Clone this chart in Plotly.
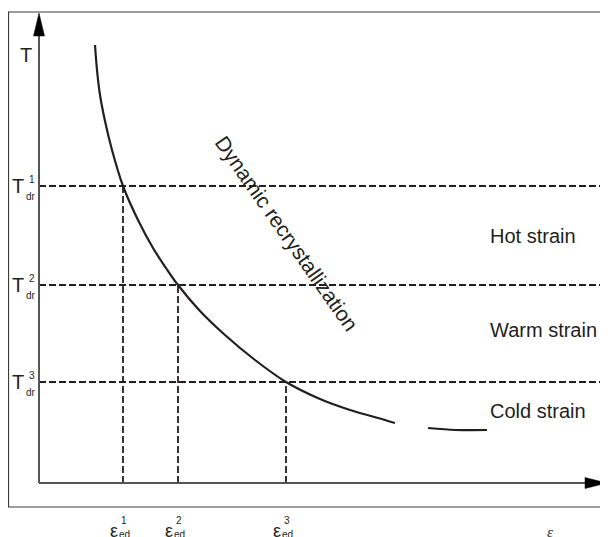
import plotly.graph_objects as go

# ---- data (strain eps, temperature T in arbitrary units) ----
eps_curve = [0.56, 0.58, 0.61, 0.66, 0.73, 0.84, 0.99, 1.14, 1.27, 1.39, 1.61, 1.86, 2.16, 2.47, 2.81, 3.11, 3.46, 3.56]
T_curve = [4.38, 4.13, 3.88, 3.62, 3.33, 2.97, 2.63, 2.35, 2.15, 1.98, 1.72, 1.48, 1.23, 1.01, 0.84, 0.73, 0.63, 0.60]
eps_tail = [3.89, 4.16, 4.48]
T_tail = [0.55, 0.53, 0.53]

T_levels = [2.97, 1.98, 1.01]          # T_dr^1, T_dr^2, T_dr^3
eps_levels = [0.84, 1.39, 2.47]        # eps_ed^1, eps_ed^2, eps_ed^3
level_names = ["1", "2", "3"]
regions = ["Hot strain", "Warm strain", "Cold strain"]
region_T = [2.47, 1.53, 0.72]

# ranges compensate for the 8px page margin of the html body
X_MIN, X_MAX = -0.31, 5.77
Y_MIN, Y_MAX = -0.62, 4.75
X_END = 5.68
Y_END = 4.70

INK = "#231f20"
FONT = "Liberation Sans, Arial, sans-serif"

fig = go.Figure()

# dashed guide lines
for e, t in zip(eps_levels, T_levels):
    fig.add_trace(go.Scatter(x=[0, X_MAX + 0.2], y=[t, t], mode="lines",
                             line=dict(color=INK, width=1.8, dash="7px,3px"),
                             hoverinfo="skip", showlegend=False))
    fig.add_trace(go.Scatter(x=[e, e], y=[0, t], mode="lines",
                             line=dict(color=INK, width=1.8, dash="7px,3px"),
                             hoverinfo="skip", showlegend=False))

# curve
fig.add_trace(go.Scatter(x=eps_curve, y=T_curve, mode="lines",
                         line=dict(color=INK, width=2.2, shape="spline", smoothing=1.0),
                         hoverinfo="skip", showlegend=False))
fig.add_trace(go.Scatter(x=eps_tail, y=T_tail, mode="lines",
                         line=dict(color=INK, width=2.2, shape="spline", smoothing=0.8),
                         hoverinfo="skip", showlegend=False))

shapes = []
# outer frame
shapes.append(dict(type="rect", x0=-0.305, y0=-0.24, x1=6.2, y1=4.71,
                   line=dict(color="#3a3a3a", width=1.2), fillcolor="rgba(0,0,0,0)", layer="below"))
# axes
shapes.append(dict(type="line", x0=0, y0=0, x1=0, y1=Y_END - 0.1, line=dict(color="#555555", width=2)))
shapes.append(dict(type="line", x0=0, y0=0, x1=X_END - 0.1, y1=0, line=dict(color="#555555", width=2)))
# arrow heads
shapes.append(dict(type="path", path=f"M -0.055,{Y_END-0.23} L 0,{Y_END} L 0.055,{Y_END-0.23} Z",
                   fillcolor="#000000", line=dict(color="#000000", width=0.5)))
shapes.append(dict(type="path", path=f"M {X_END-0.22},-0.055 L {X_END},0 L {X_END-0.22},0.055 Z",
                   fillcolor="#000000", line=dict(color="#000000", width=0.5)))

ann = []
def txt(x, y, s, size, xanchor="center", family=FONT, angle=0, yanchor="middle"):
    ann.append(dict(x=x, y=y, text=s, showarrow=False, xanchor=xanchor, yanchor=yanchor,
                    textangle=angle, font=dict(family=family, size=size, color=INK)))

txt(-0.13, 4.28, "T", 20)
for t, n in zip(T_levels, level_names):
    txt(-0.21, t, "T", 20)
    txt(-0.075, t + 0.07, n, 10)
    txt(-0.085, t - 0.10, "dr", 10)
for e, n in zip(eps_levels, level_names):
    dx = -0.095
    txt(e + dx, -0.48, "ε", 18)
    txt(e + 0.01, -0.37, n, 10)
    txt(e + 0.01, -0.51, "ed", 10)
txt(5.11, -0.49, "<i>ε</i>", 15, family="Liberation Serif, Times New Roman, serif")

for r, t in zip(regions, region_T):
    txt(4.49, t, r, 20, xanchor="left")

txt(2.48, 2.50, "Dynamic recrystallization", 21, angle=55)

fig.update_layout(
    width=608, height=537,
    margin=dict(l=0, r=0, t=0, b=0),
    paper_bgcolor="white", plot_bgcolor="white",
    xaxis=dict(range=[X_MIN, X_MAX], visible=False, fixedrange=True),
    yaxis=dict(range=[Y_MIN, Y_MAX], visible=False, fixedrange=True),
    shapes=shapes, annotations=ann, showlegend=False,
)

fig.write_html("out.html")
